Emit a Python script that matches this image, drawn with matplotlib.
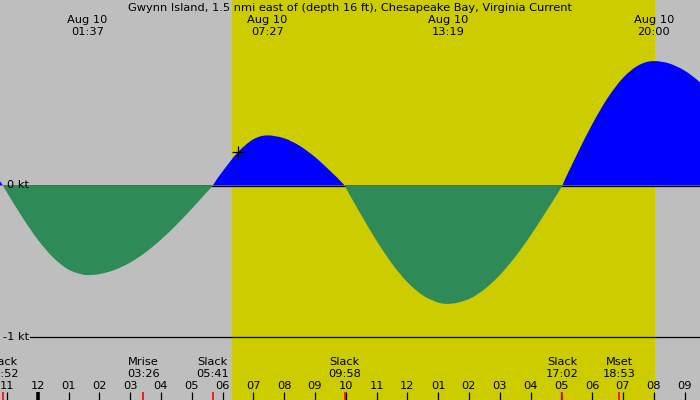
import matplotlib
matplotlib.use("Agg")
import matplotlib.pyplot as plt
from matplotlib.path import Path
from matplotlib.patches import PathPatch, Rectangle
import numpy as np

# ---------------- data ----------------
title = "Gwynn Island, 1.5 nmi east of (depth 16 ft), Chesapeake Bay, Virginia Current"

# current speed (kt), hours since midnight Aug 10
curve_hours = [-1.5, -1.133, -1.0, -0.5, 0.0, 0.5, 1.0, 1.5, 1.617,
               2.0, 2.5, 3.0, 3.5, 4.0, 4.5, 5.0, 5.5, 5.683,
               6.0, 6.5, 7.0, 7.45, 8.0, 8.5, 9.0, 9.5, 9.967,
               10.5, 11.0, 11.5, 12.0, 12.5, 13.0, 13.317,
               14.0, 14.5, 15.0, 15.5, 16.0, 16.5, 17.033,
               17.5, 18.0, 18.5, 19.0, 19.5, 20.0, 20.5, 21.0, 21.5, 22.0]
curve_speed = [0.11, 0.0, -0.045, -0.209, -0.356, -0.474, -0.554, -0.589, -0.59,
               -0.584, -0.556, -0.508, -0.441, -0.357, -0.260, -0.154, -0.042, 0.0,
               0.092, 0.219, 0.304, 0.33, 0.311, 0.262, 0.188, 0.095, 0.0,
               -0.193, -0.363, -0.514, -0.636, -0.723, -0.771, -0.78,
               -0.748, -0.684, -0.591, -0.471, -0.330, -0.174, 0.0,
               0.201, 0.402, 0.575, 0.708, 0.791, 0.82, 0.804, 0.757, 0.680, 0.576]

extrema_labels = ["01:37", "07:27", "13:19", "20:00"]
extrema_date = "Aug 10"

event_names = ["Slack", "Mrise", "Slack", "Slack", "Slack", "Mset"]
event_times = ["22:52", "03:26", "05:41", "09:58", "17:02", "18:53"]
event_dayoffset = [-1, 0, 0, 0, 0, 0]

hour_ticks = list(range(-1, 22))
hour_labels = ["11", "12", "01", "02", "03", "04", "05", "06", "07", "08", "09", "10",
               "11", "12", "01", "02", "03", "04", "05", "06", "07", "08", "09"]

sunrise, sunset = "06:19", "20:02"
now_time, now_speed = 6.51, 0.22
y_lines = [0, -1]
y_line_labels = ["0 kt", "-1 kt"]

# ---------------- helpers ----------------
def to_h(s, day=0):
    hh, mm = s.split(":")
    return int(hh) + int(mm) / 60.0 + 24 * day

GRAY = "#bebebe"
YELLOW = "#cccc00"
BLUE = "#0000ff"
GREEN = "#2e8b57"
FS = 8.2

W, H = 700, 400
fig = plt.figure(figsize=(7, 4), dpi=100, facecolor=GRAY)
ax = fig.add_axes([0, 0, 1, 1])
ax.set_facecolor(GRAY)
px_per_h = 30.8
x0_px = 37.7
xmin = -x0_px / px_per_h
xmax = (W - x0_px) / px_per_h
ax.set_xlim(xmin, xmax)
y0_px = 185.5
px_per_kt = 151.8
ax.set_ylim(-(H - y0_px) / px_per_kt, y0_px / px_per_kt)
for s in ax.spines.values():
    s.set_visible(False)
ax.set_xticks([])
ax.set_yticks([])

def yf(ypx):
    return 1 - ypx / H

# daylight
ax.axvspan(to_h(sunrise), to_h(sunset), color=YELLOW, zorder=1, lw=0)

# smooth curve through the read points (cubic Hermite Bezier path)
t = np.array(curve_hours)
v = np.array(curve_speed)
n = len(t)
m_in = np.zeros(n)
m_out = np.zeros(n)
for i in range(n):
    if i == 0:
        m_in[i] = m_out[i] = (v[1] - v[0]) / (t[1] - t[0])
    elif i == n - 1:
        m_in[i] = m_out[i] = (v[-1] - v[-2]) / (t[-1] - t[-2])
    elif v[i] == 0:
        m_in[i] = (v[i] - v[i - 1]) / (t[i] - t[i - 1]) * 1.1
        m_out[i] = (v[i + 1] - v[i]) / (t[i + 1] - t[i]) * 1.1
    elif (v[i] - v[i - 1]) * (v[i + 1] - v[i]) <= 0:
        m_in[i] = m_out[i] = 0.0
    else:
        m_in[i] = m_out[i] = (v[i + 1] - v[i - 1]) / (t[i + 1] - t[i - 1])
verts = [(t[0], 0.0), (t[0], v[0])]
codes = [Path.MOVETO, Path.LINETO]
for i in range(n - 1):
    dt = t[i + 1] - t[i]
    verts += [(t[i] + dt / 3, v[i] + m_out[i] * dt / 3),
              (t[i + 1] - dt / 3, v[i + 1] - m_in[i + 1] * dt / 3),
              (t[i + 1], v[i + 1])]
    codes += [Path.CURVE4] * 3
verts += [(t[-1], 0.0), (t[0], 0.0)]
codes += [Path.LINETO, Path.CLOSEPOLY]
path = Path(verts, codes)

for col, y_lo, z in [(BLUE, 0.0, 3), (GREEN, -5.0, 4)]:
    patch = PathPatch(path, facecolor=col, edgecolor="none", lw=0, zorder=z)
    ax.add_patch(patch)
    clip = Rectangle((xmin - 5, y_lo), (xmax - xmin) + 10, 5.0, transform=ax.transData)
    patch.set_clip_path(clip)

# kt lines
trans_y = ax.get_yaxis_transform()
for yv, lab in zip(y_lines, y_line_labels):
    ax.plot([30 / W, 1], [yv, yv], transform=trans_y, color="black", lw=0.9, zorder=3.5)
    ax.text(3 / W if yv < 0 else 7 / W, yv, lab, transform=trans_y, ha="left", va="center",
            fontsize=FS, color="black", zorder=6)

# now marker
ax.plot([now_time], [now_speed], marker="+", color="black", ms=8, mew=0.9, zorder=6)

# title
ax.text(0.5, yf(8), title, transform=ax.transAxes, ha="center", va="center", fontsize=FS)

# extrema labels
tx = ax.get_xaxis_transform()
for lab in extrema_labels:
    h = to_h(lab)
    ax.text(h, yf(20), extrema_date, transform=tx, ha="center", va="center", fontsize=FS)
    ax.text(h, yf(32), lab, transform=tx, ha="center", va="center", fontsize=FS)

# hour ticks
for h, lab in zip(hour_ticks, hour_labels):
    ax.text(h, yf(386), lab, transform=tx, ha="center", va="center", fontsize=FS)
    lw = 2.6 if h == 0 else 0.9
    ax.plot([h, h], [yf(392), 0], transform=tx, color="black", lw=lw, zorder=6,
            solid_capstyle="butt")

# events
for name, tm, d in zip(event_names, event_times, event_dayoffset):
    h = to_h(tm, d)
    ax.text(h, yf(362), name, transform=tx, ha="center", va="center", fontsize=FS)
    ax.text(h, yf(374), tm, transform=tx, ha="center", va="center", fontsize=FS)
    ax.plot([h, h], [yf(392), 0], transform=tx, color="red", lw=1.2, zorder=6.5,
            solid_capstyle="butt")

fig.savefig("out.png", dpi=100, facecolor=GRAY)
